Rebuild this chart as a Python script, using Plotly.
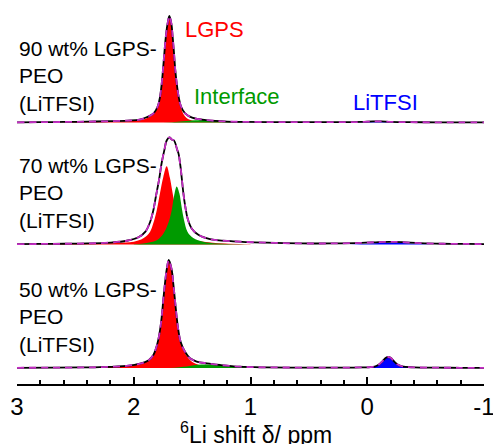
import plotly.graph_objects as go

# ---------------- data ----------------
# 90 wt% LGPS-PEO(LiTFSI)
exp90_x = [3.0, 2.8, 2.6, 2.4, 2.2, 2.05, 1.95, 1.89, 1.83, 1.795, 1.775, 1.76, 1.75, 1.738, 1.725,
           1.71, 1.695, 1.678, 1.667, 1.655, 1.644, 1.632, 1.615, 1.595, 1.56, 1.5, 1.44, 1.38, 1.3,
           1.2, 1.05, 0.8, 0.5, 0.2, 0.05, -0.05, -0.12, -0.2, -0.35, -0.6, -0.8, -1.0]
exp90_y = [0.2, 0.3, 0.5, 0.8, 1.2, 1.8, 2.6, 4.9, 8.6, 15, 24, 37, 49, 65, 81,
           93, 100, 93, 81, 65, 49, 37, 24, 15, 8.6, 4.5, 3.2, 2.3, 1.5,
           0.9, 0.6, 0.4, 0.3, 0.3, 0.5, 1.0, 1.0, 0.6, 0.3, 0.2, 0.2, 0.2]
lgps90_x = [3.0, 2.6, 2.3, 2.1, 1.95, 1.89, 1.83, 1.795, 1.775, 1.76, 1.75, 1.738, 1.725, 1.71, 1.695,
            1.678, 1.667, 1.655, 1.644, 1.632, 1.615, 1.595, 1.575, 1.55, 1.52, 1.48, 1.4, 1.2, 0.9]
lgps90_y = [0.1, 0.3, 0.6, 1.0, 2.0, 4.0, 8.0, 14.5, 23.5, 36.5, 48.5, 64.5, 80.5, 92.5, 99.5,
            92.5, 80.5, 64.5, 48.5, 36.5, 23.5, 14, 8, 4.5, 2.5, 1.3, 0.6, 0.2, 0.0]
intf90_x = [1.8, 1.65, 1.55, 1.45, 1.38, 1.3, 1.2, 1.05, 0.9]
intf90_y = [0, 0.5, 1.5, 2.2, 2.2, 1.6, 0.9, 0.3, 0]
litfsi90_x = [0.15, 0.0, -0.08, -0.16, -0.3]
litfsi90_y = [0, 0.5, 1.0, 0.5, 0]

# 70 wt% LGPS-PEO(LiTFSI)
exp70_x = [3.0, 2.8, 2.6, 2.4, 2.2, 2.06, 1.96, 1.90, 1.86, 1.832, 1.81, 1.784, 1.761, 1.738, 1.718,
           1.695, 1.675, 1.655, 1.627, 1.617, 1.60, 1.587, 1.575, 1.558, 1.538, 1.504, 1.447, 1.347,
           1.147, 0.86, 0.575, 0.3, 0.05, -0.1, -0.2, -0.3, -0.45, -0.65, -0.85, -1.0]
exp70_y = [0.3, 0.5, 0.7, 1.0, 1.8, 3.5, 6.7, 12, 21, 32, 45, 60, 76, 88, 97,
           100, 98, 97, 88, 85, 73, 60, 48, 35, 24, 15, 9, 5,
           3, 1.7, 1.0, 1.0, 1.5, 2.3, 2.5, 2.2, 1.3, 0.7, 0.5, 0.4]
lgps70_x = [3.0, 2.6, 2.3, 2.15, 2.0, 1.918, 1.86, 1.832, 1.803, 1.775, 1.747, 1.718, 1.69, 1.675,
            1.65, 1.62, 1.58, 1.53, 1.45, 1.3, 1.0]
lgps70_y = [0.1, 0.4, 0.9, 1.5, 2.6, 5.8, 12, 20, 32, 48, 63, 73, 62, 53,
            38, 24, 14, 7, 3.5, 1.5, 0.3]
intf70_x = [2.0, 1.918, 1.803, 1.747, 1.704, 1.675, 1.655, 1.632, 1.61, 1.59, 1.57, 1.54, 1.49,
            1.405, 1.29, 1.1, 0.9]
intf70_y = [0.2, 1.0, 4, 10, 20, 32, 45, 54, 48, 35, 23, 12, 6, 2.6, 1.0, 0.3, 0.0]
litfsi70_x = [0.2, 0.05, -0.1, -0.2, -0.3, -0.45, -0.6]
litfsi70_y = [0, 0.5, 1.3, 1.5, 1.3, 0.5, 0]

# 50 wt% LGPS-PEO(LiTFSI)
exp50_x = [3.0, 2.7, 2.45, 2.29, 2.06, 1.946, 1.875, 1.832, 1.81, 1.79, 1.775, 1.761, 1.747, 1.733,
           1.718, 1.70, 1.675, 1.661, 1.647, 1.632, 1.618, 1.598, 1.561, 1.518, 1.461, 1.375, 1.26,
           1.09, 0.86, 0.5, 0.2, 0.05, -0.03, -0.07, -0.10, -0.13, -0.16, -0.18, -0.20, -0.23,
           -0.26, -0.30, -0.4, -0.6, -0.8, -1.0]
exp50_y = [0.2, 0.3, 0.5, 0.8, 2.0, 4.0, 7.0, 12, 18, 26, 35, 47, 63, 78,
           91, 100, 91, 78, 63, 47, 35, 24, 15, 9, 6, 4.3, 2.8,
           1.2, 0.6, 0.4, 0.4, 0.6, 0.9, 1.6, 3.2, 6.2, 9.5, 10.2, 9.5, 6.2,
           3.2, 1.4, 0.6, 0.3, 0.2, 0.2]
lgps50_x = [3.0, 2.6, 2.3, 2.06, 1.946, 1.875, 1.832, 1.81, 1.79, 1.775, 1.761, 1.747, 1.733, 1.718,
            1.70, 1.675, 1.661, 1.647, 1.632, 1.618, 1.598, 1.561, 1.518, 1.47, 1.42, 1.35, 1.2, 1.0]
lgps50_y = [0.1, 0.3, 0.7, 1.8, 3.8, 6.8, 11.5, 17.5, 25.5, 34.5, 46.5, 62.5, 77.5, 90.5,
            99.5, 90.5, 77.5, 62.5, 46.5, 34.5, 23.5, 14, 7.5, 4, 2.2, 1.0, 0.3, 0]
intf50_x = [1.7, 1.55, 1.45, 1.38, 1.3, 1.2, 1.05, 0.9]
intf50_y = [0, 1.5, 3.0, 3.3, 2.8, 1.8, 0.6, 0]
litfsi50_x = [0.05, -0.03, -0.07, -0.10, -0.13, -0.16, -0.18, -0.20, -0.23, -0.26, -0.30, -0.4]
litfsi50_y = [0, 0.8, 1.5, 3.0, 6.0, 9.3, 10.0, 9.3, 6.0, 3.0, 1.3, 0.3]

tick_vals = [3, 2, 1, 0, -1]
tick_text = ["3", "2", "1", "0", "-1"]
panel_labels = ["90 wt% LGPS-<br>PEO<br>(LiTFSI)", "70 wt% LGPS-<br>PEO<br>(LiTFSI)",
                "50 wt% LGPS-<br>PEO<br>(LiTFSI)"]
x_title = "<sup>6</sup>Li shift δ/ ppm"

# ---------------- layout geometry ----------------
# the page body margin is removed in the page script below, so figure px == window px
OFF = 0
WIN_W, WIN_H = 493, 444
W, H = WIN_W - OFF, WIN_H - OFF
AX_L, AX_R, AX_B = 17, 484, 384          # window pixels of the x-axis line
ML = AX_L - OFF
MR = W - (AX_R - OFF)
MB = H - (AX_B - OFF)
MT = 0
PW, PH = W - ML - MR, H - MT - MB
FONT = "Liberation Sans, Arial, sans-serif"

def pxp(xp):  # window px -> paper fraction
    return (xp - OFF - ML) / PW

def pyp(yp):
    return (H - MB - (yp - OFF)) / PH

# (yaxis name, domain, baseline window px, 100-level window px)
panels = [
    ("y3", [0.66, 1.0], 122.5, 16.0),
    ("y2", [0.345, 0.655], 244.5, 137.3),
    ("y", [0.0, 0.34], 368.0, 260.0),
]

RED, GREEN, BLUE = "#FF0000", "#009A00", "#0000FF"
MAGENTA = "#C42EC4"

sets = [
    (exp90_x, exp90_y, lgps90_x, lgps90_y, intf90_x, intf90_y, litfsi90_x, litfsi90_y),
    (exp70_x, exp70_y, lgps70_x, lgps70_y, intf70_x, intf70_y, litfsi70_x, litfsi70_y),
    (exp50_x, exp50_y, lgps50_x, lgps50_y, intf50_x, intf50_y, litfsi50_x, litfsi50_y),
]

fig = go.Figure()
for (yname, dom, base, peak), s in zip(panels, sets):
    ex, ey, lx, ly, ix, iy, tx, ty = s
    for xs, ys, col in [(lx, ly, RED), (ix, iy, GREEN), (tx, ty, BLUE)]:
        fig.add_trace(go.Scatter(x=xs, y=ys, mode="lines", line=dict(width=0, color=col, shape="spline"),
                                 fill="tozeroy", fillcolor=col, xaxis="x", yaxis=yname,
                                 showlegend=False, hoverinfo="skip"))
    fig.add_trace(go.Scatter(x=ex, y=ey, mode="lines", line=dict(width=1.8, color="black", shape="spline"),
                             xaxis="x", yaxis=yname, showlegend=False))
    # fitted envelope coincides with the measured spectrum
    fig.add_trace(go.Scatter(x=ex, y=ey, mode="lines",
                             line=dict(width=1.8, color=MAGENTA, dash="7px,5px", shape="spline"),
                             xaxis="x", yaxis=yname, showlegend=False))

layout_axes = {}
for (yname, dom, base, peak) in panels:
    pb = OFF + MT + PH * (1 - dom[0])
    pt = OFF + MT + PH * (1 - dom[1])
    sc = (base - peak) / 100.0
    lo = -(pb - base) / sc
    hi = (base - pt) / sc
    key = "yaxis" if yname == "y" else "yaxis" + yname[1:]
    layout_axes[key] = dict(domain=dom, range=[lo, hi], visible=False, fixedrange=True)

fig.update_layout(
    width=W, height=H,
    margin=dict(l=ML, r=MR, t=MT, b=MB),
    paper_bgcolor="white", plot_bgcolor="white",
    font=dict(family=FONT, color="black"),
    xaxis=dict(range=[3, -1], anchor="y", showline=True, linecolor="black", linewidth=1.5,
               showgrid=False, zeroline=False, ticks="inside", ticklen=7, tickwidth=1.5,
               tickcolor="black", tickvals=tick_vals, ticktext=tick_text,
               tickfont=dict(size=24, family=FONT, color="black"),
               ticklabeloverflow="allow",
               minor=dict(dtick=0.2, ticks="inside", ticklen=4, tickwidth=1.5, tickcolor="black",
                          showgrid=False),
               automargin=False),
    **layout_axes,
)

ann = []
for lab, yc in zip(panel_labels, [75.7, 193.0, 316.7]):
    ann.append(dict(text=lab, x=pxp(16.5), y=pyp(yc), xref="paper", yref="paper",
                    xanchor="left", yanchor="middle", align="left", showarrow=False,
                    font=dict(size=21, family=FONT, color="black")))
ann.append(dict(text="LGPS", x=pxp(183), y=pyp(29.5), xref="paper", yref="paper", xanchor="left",
                yanchor="middle", showarrow=False, font=dict(size=22, family=FONT, color=RED)))
ann.append(dict(text="Interface", x=pxp(192), y=pyp(97), xref="paper", yref="paper", xanchor="left",
                yanchor="middle", showarrow=False, font=dict(size=22, family=FONT, color=GREEN)))
ann.append(dict(text="LiTFSI", x=pxp(351), y=pyp(102.5), xref="paper", yref="paper", xanchor="left",
                yanchor="middle", showarrow=False, font=dict(size=22, family=FONT, color=BLUE)))
ann.append(dict(text=x_title, x=pxp(256), y=pyp(432.5), xref="paper", yref="paper", xanchor="center",
                yanchor="middle", showarrow=False, font=dict(size=23, family=FONT, color="black")))
fig.update_layout(annotations=ann)

fig.write_html("out.html",
               config={"displayModeBar": False},
               post_script="document.documentElement.style.margin='0';"
                           "document.body.style.margin='0';"
                           "document.body.style.overflow='hidden';")
